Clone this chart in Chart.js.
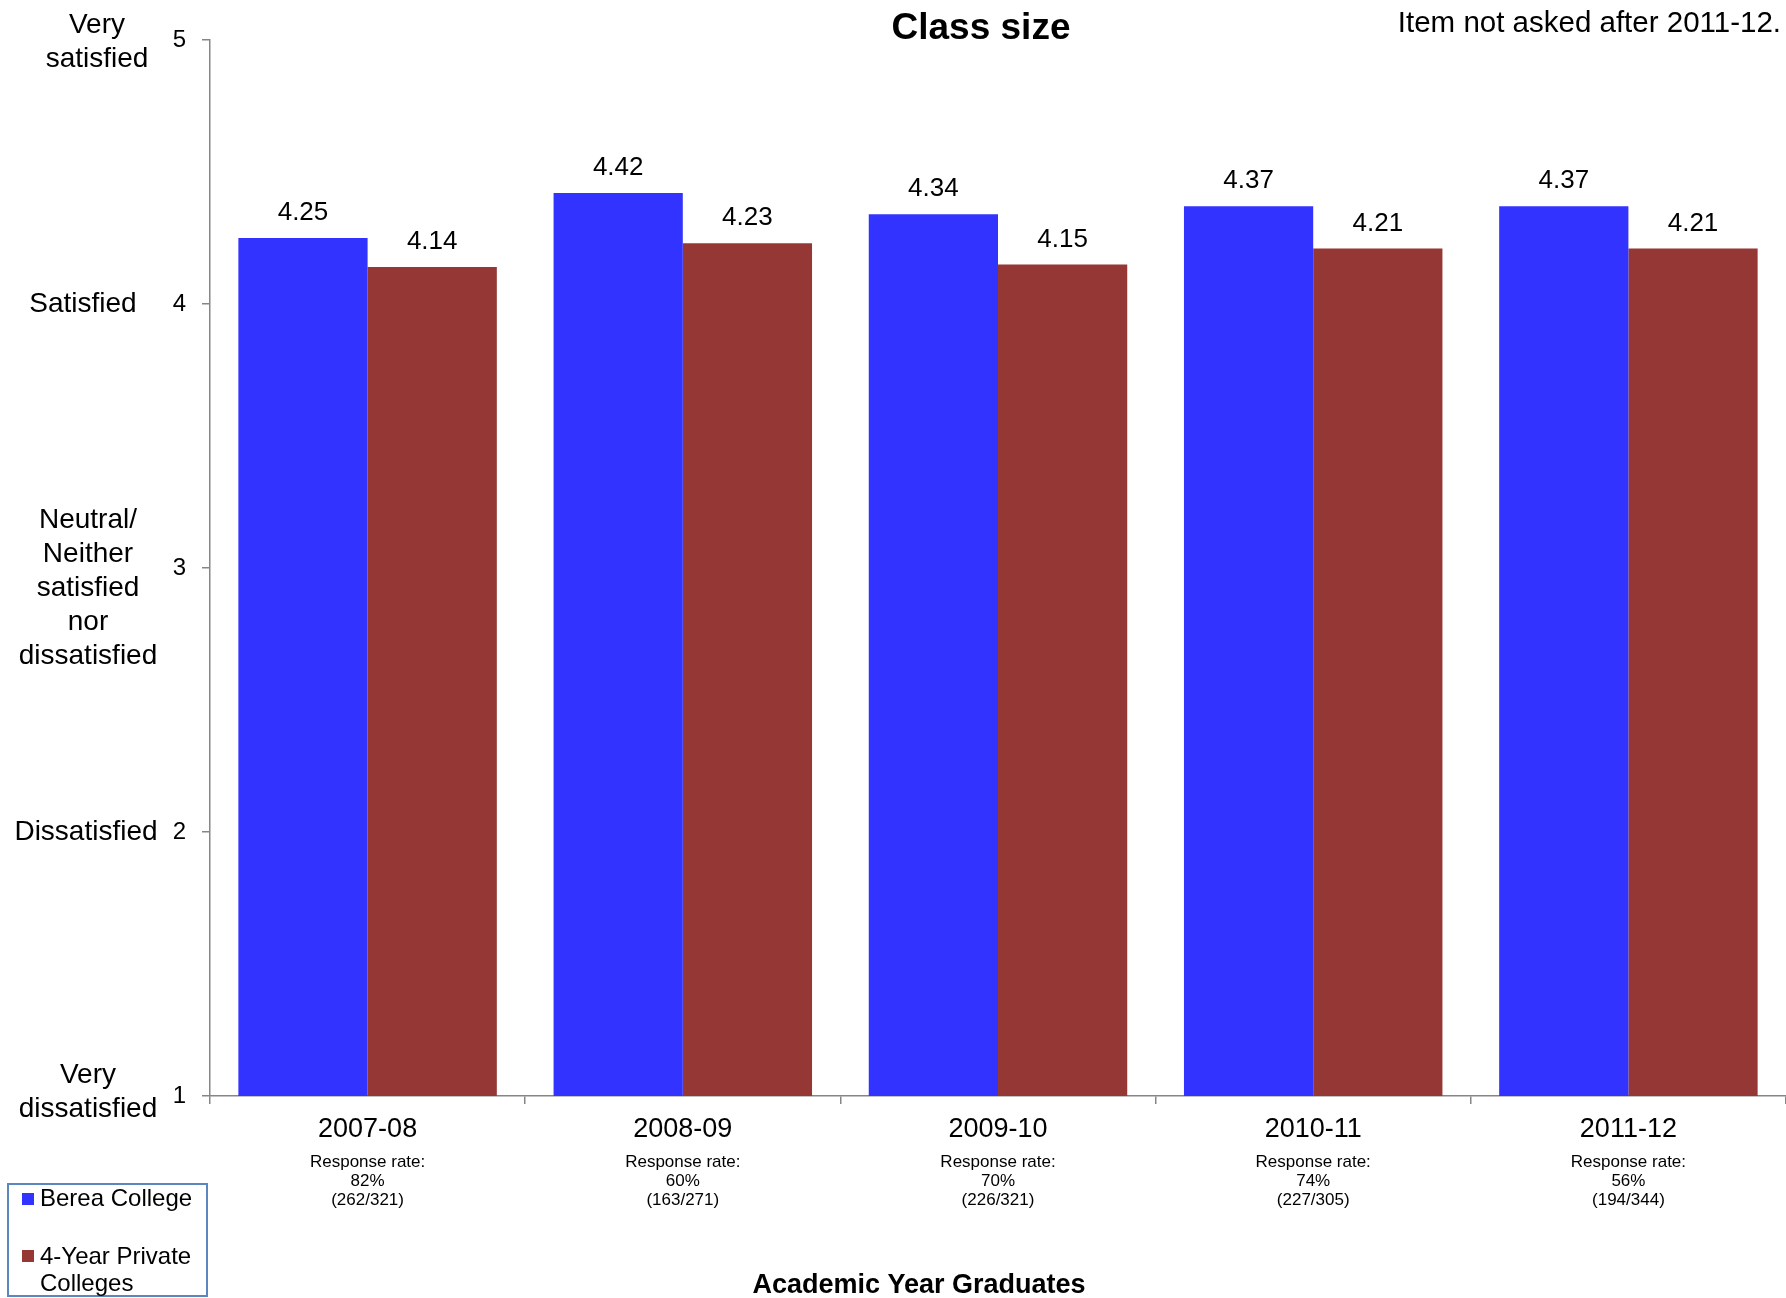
<!DOCTYPE html>
<html>
<head>
<meta charset="utf-8">
<title>Class size</title>
<script src="https://cdn.jsdelivr.net/npm/chart.js@4.4.1/dist/chart.umd.min.js"></script>
<style>
  html, body { margin: 0; padding: 0; background: #fff; }
  #wrap { width: 1786px; height: 1298px; position: relative; }
</style>
</head>
<body>
<div id="wrap"><canvas id="classChart"></canvas></div>
<script>
// --- Data ---
const years = ["2007-08", "2008-09", "2009-10", "2010-11", "2011-12"];
const bereaScores = [4.25, 4.42, 4.34, 4.37, 4.37];
const privateScores = [4.14, 4.23, 4.15, 4.21, 4.21];
const responseRates = ["82%", "60%", "70%", "74%", "56%"];
const responseCounts = ["(262/321)", "(163/271)", "(226/321)", "(227/305)", "(194/344)"];
const scaleTicks = [1, 2, 3, 4, 5];
const scaleNames = [
  ["Very", "dissatisfied"],
  ["Dissatisfied"],
  ["Neutral/", "Neither", "satisfied", "nor", "dissatisfied"],
  ["Satisfied"],
  ["Very", "satisfied"],
];
const seriesNames = ["Berea College", "4-Year Private Colleges"];

const FONT = "'Liberation Sans', Arial, sans-serif";
const BLUE = "#3333ff";
const RED = "#953735";
const AXIS = "#868686";

// --- Extra text drawn around the plot ---
const annotations = {
  id: "annotations",
  afterDraw(chart) {
    const ctx = chart.ctx;
    const x = chart.scales.x;
    const y = chart.scales.y;
    ctx.save();
    ctx.fillStyle = "#000";

    // value labels above bars
    ctx.font = `26px ${FONT}`;
    ctx.textAlign = "center";
    ctx.textBaseline = "middle";
    chart.data.datasets.forEach((ds, i) => {
      chart.getDatasetMeta(i).data.forEach((bar, j) => {
        ctx.fillText(ds.data[j].toFixed(2), bar.x, bar.y - 25);
      });
    });

    // rating names left of the y ticks
    ctx.font = `28px ${FONT}`;
    scaleTicks.forEach((v, i) => {
      const lines = scaleNames[i];
      const lh = 34;
      let cy = y.getPixelForValue(v);
      let cx = 88;
      if (v === 5) { cx = 97; cy += 2; }
      if (v === 4) cx = 83;
      if (v === 3) cy += 20;
      if (v === 2) cx = 86;
      if (v === 1) cy -= 4;
      lines.forEach((t, k) => {
        ctx.fillText(t, cx, cy + (k - (lines.length - 1) / 2) * lh);
      });
    });

    // response rates under each year
    ctx.font = `17px ${FONT}`;
    years.forEach((yr, i) => {
      const cx = x.getPixelForValue(i);
      ctx.fillText("Response rate:", cx, 1162);
      ctx.fillText(responseRates[i], cx, 1181);
      ctx.fillText(responseCounts[i], cx, 1200);
    });

    // title and notes
    ctx.font = `bold 37px ${FONT}`;
    ctx.fillText("Class size", 981, 29);
    ctx.font = `bold 27px ${FONT}`;
    ctx.fillText("Academic Year Graduates", 919, 1286);
    ctx.font = `29.5px ${FONT}`;
    ctx.textAlign = "right";
    ctx.fillText("Item not asked after 2011-12.", 1781, 24);

    // legend box
    ctx.strokeStyle = "#5b87c0";
    ctx.lineWidth = 2;
    ctx.strokeRect(8, 1184, 199, 112);
    ctx.textAlign = "left";
    ctx.font = `24px ${FONT}`;
    ctx.fillStyle = BLUE;
    ctx.fillRect(22, 1193, 12, 12);
    ctx.fillStyle = RED;
    ctx.fillRect(22, 1250, 12, 12);
    ctx.fillStyle = "#000";
    ctx.fillText(seriesNames[0], 40, 1199);
    ctx.fillText("4-Year Private", 40, 1257);
    ctx.fillText("Colleges", 40, 1284);
    ctx.restore();
  },
};

// --- Chart ---
const ctx = document.getElementById("classChart").getContext("2d");
new Chart(ctx, {
  type: "bar",
  data: {
    labels: years,
    datasets: [
      { label: seriesNames[0], data: bereaScores, backgroundColor: BLUE, borderWidth: 0 },
      { label: seriesNames[1], data: privateScores, backgroundColor: RED, borderWidth: 0 },
    ],
  },
  options: {
    responsive: true,
    maintainAspectRatio: false,
    animation: false,
    layout: { padding: { top: 40, left: 0, right: 0, bottom: 0 } },
    datasets: { bar: { categoryPercentage: 0.82, barPercentage: 1.0 } },
    plugins: {
      legend: { display: false },
      title: { display: false },
      tooltip: { enabled: false },
    },
    scales: {
      x: {
        afterFit: (s) => { s.height = 202; },
        grid: { offset: true, drawOnChartArea: false, drawTicks: true, tickLength: 8, color: AXIS, lineWidth: 1.5 },
        border: { color: AXIS, width: 1.5 },
        ticks: { color: "#000", font: { family: FONT, size: 27 }, padding: 9, maxRotation: 0 },
      },
      y: {
        min: 1,
        max: 5,
        afterFit: (s) => { s.width = 210; },
        afterBuildTicks: (s) => { s.ticks = scaleTicks.map((v) => ({ value: v })); },
        grid: { drawOnChartArea: false, drawTicks: true, tickLength: 8, color: AXIS, lineWidth: 1.5 },
        border: { color: AXIS, width: 1.5 },
        ticks: { color: "#000", font: { family: FONT, size: 24 }, padding: 16 },
      },
    },
  },
  plugins: [annotations],
});
</script>
</body>
</html>
